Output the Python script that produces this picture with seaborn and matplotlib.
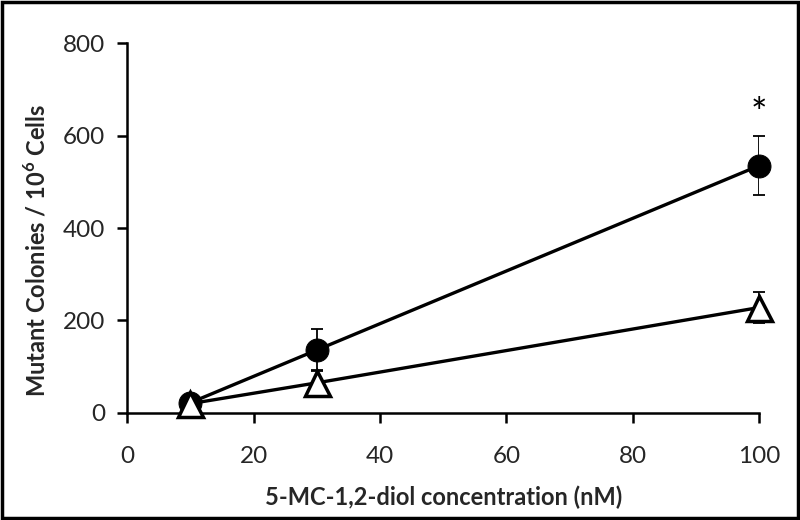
import matplotlib
matplotlib.use("Agg")
import matplotlib.pyplot as plt
import seaborn as sns
import pandas as pd

# concentrations (nM)
conc = [10, 30, 100]
# filled circles
circle_vals = [22, 136, 535]
circle_err = [8, 45, 64]
# open triangles
tri_vals = [20, 65, 228]
tri_err = [6, 28, 33]

x_ticks = [0, 20, 40, 60, 80, 100]
y_ticks = [0, 200, 400, 600, 800]

sns.set_style("ticks")
plt.rcParams['font.family'] = ['Lato', 'DejaVu Sans']
plt.rcParams['mathtext.fontset'] = 'custom'
plt.rcParams['mathtext.bf'] = 'Lato:bold'
plt.rcParams['mathtext.rm'] = 'Lato'

df = pd.DataFrame({
    'conc': conc * 2,
    'val': circle_vals + tri_vals,
    'err': circle_err + tri_err,
    'grp': ['circle'] * 3 + ['triangle'] * 3,
})

fig = plt.figure(figsize=(8, 5.2), dpi=100)
ax = fig.add_axes([0.159, 0.206, 0.79, 0.711])

circ = df[df.grp == 'circle']
tri = df[df.grp == 'triangle']

ax.errorbar(circ.conc, circ.val, yerr=circ.err, fmt='none', ecolor='black',
            elinewidth=1.3, capsize=4, capthick=1.3, zorder=2)
sns.lineplot(data=circ, x='conc', y='val', ax=ax, color='black', linewidth=2.4,
             marker='o', markersize=16.5, markerfacecolor='black',
             markeredgecolor='black', zorder=3)
ax.errorbar(tri.conc, tri.val, yerr=tri.err, fmt='none', ecolor='black',
            elinewidth=1.3, capsize=4, capthick=1.3, zorder=4)
sns.lineplot(data=tri, x='conc', y='val', ax=ax, color='black', linewidth=2.4,
             marker='^', markersize=18, markerfacecolor='white',
             markeredgecolor='black', markeredgewidth=2.5, zorder=5)

ax.text(100, 645, '*', ha='center', va='center', fontsize=28, color='black')

ax.set_xlim(0, 100)
ax.set_ylim(0, 800)
ax.set_xticks(x_ticks)
ax.set_yticks(y_ticks)
ax.tick_params(axis='both', labelsize=17.5, width=1.8, length=7, color='black',
               direction='out')
ax.tick_params(axis='x', pad=17)
ax.tick_params(axis='y', pad=9)
ax.set_xlabel('5-MC-1,2-diol concentration (nM)', fontsize=17, fontweight='bold', labelpad=13)
ax.set_ylabel(r'Mutant Colonies / 10$^\mathbf{6}$ Cells', fontsize=17, fontweight='bold')
ax.yaxis.set_label_coords(-0.123, 0.44)

sns.despine(ax=ax)
for s in ['left', 'bottom']:
    ax.spines[s].set_linewidth(1.8)
    ax.spines[s].set_color('black')
for ln in ax.lines:
    ln.set_clip_on(False)

# frame around the whole image
fig.patches.append(plt.Rectangle((0.002, 0.003), 0.996, 0.994, transform=fig.transFigure,
                                 fill=False, edgecolor='black', linewidth=2.5))

fig.savefig('out.png', dpi=100)
